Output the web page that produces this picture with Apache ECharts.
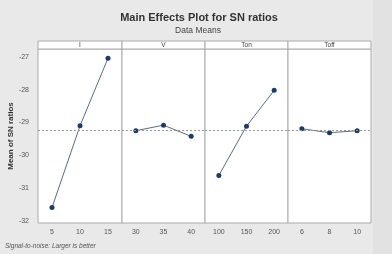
<!DOCTYPE html>
<html><head><meta charset="utf-8">
<script src="https://cdn.jsdelivr.net/npm/echarts@6/dist/echarts.min.js"></script>
<style>html,body{margin:0;padding:0;background:#e9e9e9}#c{width:392px;height:254px}</style>
</head><body><div id="c"></div>
<script>
var factors = ['I', 'V', 'Ton', 'Toff'];
var levelsI = ['5', '10', '15'];
var levelsV = ['30', '35', '40'];
var levelsTon = ['100', '150', '200'];
var levelsToff = ['6', '8', '10'];
var snI = [-31.59, -29.10, -27.04];
var snV = [-29.25, -29.08, -29.42];
var snTon = [-30.61, -29.11, -28.02];
var snToff = [-29.19, -29.31, -29.25];
var yTicks = [-32, -31, -30, -29, -28, -27];

var levels = [levelsI, levelsV, levelsTon, levelsToff];
var values = [snI, snV, snTon, snToff];
var all = [].concat(snI, snV, snTon, snToff);
var overall = all.reduce(function(a,b){return a+b;},0)/all.length;

var gLefts = [38, 122, 205, 288];
var gWidths = [84, 83, 83, 83];
var gTop = 49, gHeight = 174;
var yMin = -32.06, yMax = -26.76;
var font = '"Liberation Sans", Arial, sans-serif';

var grids = [], xAxes = [], yAxes = [], series = [], graphics = [], titles = [];
titles.push({text: 'Main Effects Plot for SN ratios', left: 194, textAlign: 'center', top: 7,
  textStyle: {fontFamily: font, fontSize: 11, fontWeight: 'bold', color: '#333'}});
titles.push({text: 'Data Means', left: 193, textAlign: 'center', top: 21,
  textStyle: {fontFamily: font, fontSize: 8.5, fontWeight: 'normal', color: '#444'}});

for (var i = 0; i < 4; i++) {
  grids.push({left: gLefts[i], top: gTop, width: gWidths[i], height: gHeight, show: true,
    backgroundColor: '#ffffff', borderColor: '#aaaaaa', borderWidth: 1});
  xAxes.push({type: 'category', gridIndex: i, data: levels[i], boundaryGap: true,
    axisLine: {show: false}, axisTick: {show: false},
    axisLabel: {fontFamily: font, fontSize: 7, color: '#555', margin: 6}});
  yAxes.push({type: 'value', gridIndex: i, min: yMin, max: yMax, splitNumber: 5,
    splitLine: {show: false}, axisLine: {show: false}, axisTick: {show: false},
    axisLabel: {show: i === 0, fontFamily: font, fontSize: 7, color: '#555', margin: 9,
      formatter: function(v){ return yTicks.indexOf(Math.round(v*100)/100) >= 0 ? String(Math.round(v)) : ''; }},
    name: i === 0 ? 'Mean of SN ratios' : '', nameLocation: 'middle', nameGap: 23,
    nameTextStyle: {fontFamily: font, fontSize: 8, fontWeight: 'bold', color: '#333'}});
  series.push({type: 'line', xAxisIndex: i, yAxisIndex: i, data: values[i],
    symbol: 'circle', symbolSize: 5,
    itemStyle: {color: '#1d3b6a'}, lineStyle: {color: '#5d6d7a', width: 1},
    markLine: {silent: true, symbol: 'none', label: {show: false},
      lineStyle: {type: [2, 2], color: '#999', width: 1},
      data: [{yAxis: overall}]}});
  graphics.push({type: 'rect', shape: {x: gLefts[i], y: 41, width: gWidths[i], height: 8},
    style: {fill: '#ffffff', stroke: '#aaaaaa', lineWidth: 1}});
  graphics.push({type: 'text', x: gLefts[i] + gWidths[i]/2, y: 45,
    style: {text: factors[i], fontFamily: font, fontSize: 6.5, fill: '#444',
      textAlign: 'center', textVerticalAlign: 'middle'}});
}
graphics.push({type: 'rect', shape: {x: 373, y: 0, width: 19, height: 254},
  style: {fill: '#e2e2e2'}});
graphics.push({type: 'text', x: 5, y: 246,
  style: {text: 'Signal-to-noise: Larger is better', fontFamily: font, fontSize: 6.5,
    fontStyle: 'italic', fill: '#555', textVerticalAlign: 'middle'}});

var chart = echarts.init(document.getElementById('c'), null, {renderer: 'canvas'});
chart.setOption({
  backgroundColor: '#e9e9e9', animation: false,
  title: titles, grid: grids, xAxis: xAxes, yAxis: yAxes, series: series, graphic: graphics
});
</script></body></html>
